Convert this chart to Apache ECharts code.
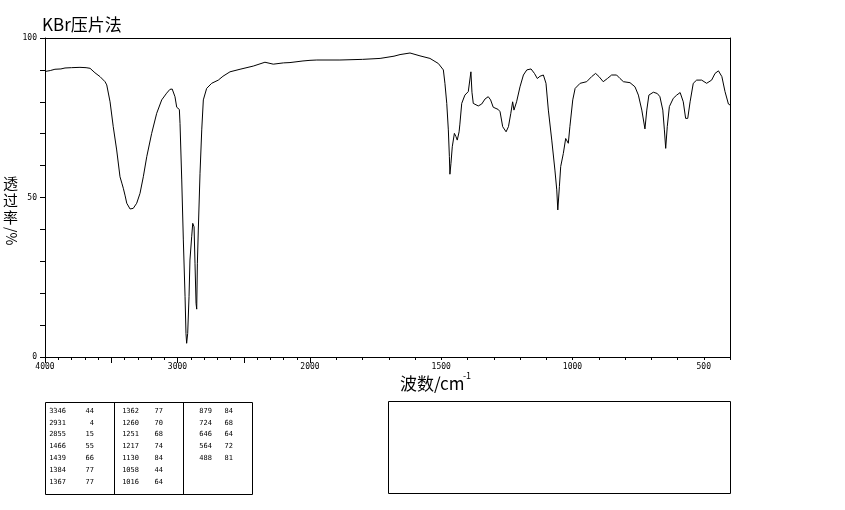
<!DOCTYPE html>
<html>
<head>
<meta charset="utf-8">
<script src="https://cdn.jsdelivr.net/npm/echarts@6/dist/echarts.min.js"></script>
<style>
html,body{margin:0;padding:0;background:#fff;}
#chart{width:845px;height:510px;}
</style>
</head>
<body>
<div id="chart"></div>
<script>
// ---- Spectrum data (wavenumber cm-1, transmittance %) ----
const wavenumbers = [
4000,3960,3925,3880,3849,3800,3736,3690,3660,3623,3585,3547,3534,3509,3485,3459,3434,3420,3409,3395,
3383,3358,3346,3334,3320,3308,3283,3258,3232,3195,3157,3119,3082,3057,3040,3032,3019,3006,2986,2981,
2968,2956,2943,2936,2931,2923,2913,2906,2893,2885,2875,2868,2860,2855,2850,2843,2830,2817,2805,2780,
2742,2692,2657,2604,2528,2428,2340,2277,2200,2151,2053,2000,1974,1886,1800,1733,1680,1657,1619,1581,
1543,1511,1492,1486,1479,1473,1469,1467,1463,1458,1450,1444,1439,1432,1429,1422,1410,1397,1390,1387,
1383,1378,1359,1346,1333,1321,1312,1302,1283,1276,1266,1253,1244,1235,1228,1223,1216,1213,1200,1187,
1174,1158,1145,1134,1124,1111,1101,1092,1079,1067,1060,1056,1050,1045,1035,1026,1020,1016,1010,999,
990,971,946,927,912,899,883,867,851,832,819,806,781,762,749,736,724,717,709,692,
677,667,656,650,645,639,631,616,603,590,578,569,561,552,540,527,508,489,470,457,
444,431,419,406,400
];
const transmittance = [
89.5,89.8,90.2,90.3,90.6,90.7,90.8,90.7,90.5,89.1,87.9,86.3,85.3,80.0,72.2,64.9,56.5,54.5,52.9,50.5,
48.2,46.4,46.3,46.6,47.2,48.2,51.3,56.5,62.8,70.1,76.4,80.6,82.7,83.9,84.0,83.9,81.6,78.3,77.6,73.2,
55.5,36.7,18.9,7.4,4.3,7.4,18.9,30.4,37.7,41.9,40.8,29.4,16.8,15.0,29.4,39.8,57.6,71.2,80.6,84.2,
85.8,86.8,88.0,89.4,90.2,91.2,92.4,91.8,92.2,92.3,92.8,93.0,93.1,93.1,93.3,93.6,94.3,94.8,95.3,94.4,
93.6,92.0,90.0,85.8,79.5,71.2,62.8,57.3,60.7,65.9,70.1,69.1,68.0,70.6,73.0,79.5,82.1,83.2,83.6,89.4,
83.0,79.5,78.7,79.3,80.9,81.6,80.6,78.3,77.6,76.9,72.2,70.6,72.2,76.4,80.0,77.4,76.9,80.0,84.7,88.4,
90.0,90.3,88.9,87.3,88.0,88.4,85.8,77.4,68.0,58.6,52.4,46.1,53.4,59.7,63.8,68.5,69.1,67.0,72.2,80.6,
84.2,85.8,86.3,87.9,88.9,87.9,86.3,87.3,88.4,88.4,87.3,86.3,86.0,84.7,82.1,77.4,71.5,77.4,82.1,83.0,
82.6,81.6,77.4,71.2,65.4,72.2,78.5,81.1,82.1,82.9,80.0,74.8,74.8,80.0,85.8,86.8,86.8,85.8,86.8,88.9,
89.7,87.9,83.2,79.3,79.0
];

// ---- Peak table ----
const peakWavenumbers = [3346,2931,2855,1466,1439,1384,1367, 1362,1260,1251,1217,1130,1058,1016, 879,724,646,564,488];
const peakTransmittance = [44,4,15,55,66,77,77, 77,70,68,74,84,44,64, 84,68,64,72,81];

// ---- Axis ticks ----
const leftTickLabels = [4000,3000,2000];
const rightTickLabels = [1500,1000,500];

const titleText = 'KBr压片法';
const xName = '波数/cm';
const xNameSup = '-1';
const yNameChars = '透\n过\n率';
const yNameTail = '/%';

const highPart = [], lowPart = [];
wavenumbers.forEach((w, i) => {
  if (w >= 2000) highPart.push([w, transmittance[i]]);
  if (w <= 2000) lowPart.push([w, transmittance[i]]);
});

const cjk = '"Noto Sans CJK SC", sans-serif';

// table graphics
const tableEls = [];
const colWnRight = [66, 139, 212];
const colTRight = [94, 163, 233];
peakWavenumbers.forEach((w, i) => {
  const col = Math.floor(i / 7), row = i % 7;
  const y = 411 + row * 11.8;
  tableEls.push({type:'text', x: colWnRight[col], y: y, silent:true,
    style:{text:String(w), fill:'#000', font:'7px "DejaVu Sans Mono", monospace', textAlign:'right', textVerticalAlign:'middle'}});
  tableEls.push({type:'text', x: colTRight[col], y: y, silent:true,
    style:{text:String(peakTransmittance[i]), fill:'#000', font:'7px "DejaVu Sans Mono", monospace', textAlign:'right', textVerticalAlign:'middle'}});
});

const chart = echarts.init(document.getElementById('chart'), null, {renderer:'canvas'});
const axisLineStyle = {color:'#000', width:1};
chart.setOption({
  animation:false,
  backgroundColor:'#fff',
  title:{text:titleText, left:42, top:16, padding:0,
    textStyle:{fontSize:17, fontWeight:'normal', fontFamily:cjk, color:'#000'}},
  grid:[
    {left:45, top:38, width:265, height:319},
    {left:310, top:38, width:420, height:319}
  ],
  xAxis:[
    {gridIndex:0, type:'value', min:2000, max:4000, inverse:true, interval:500,
     axisLine:{show:true, lineStyle:axisLineStyle},
     axisTick:{show:true, length:6, lineStyle:axisLineStyle},
     minorTick:{show:true, splitNumber:5, length:3, lineStyle:axisLineStyle},
     splitLine:{show:false}, minorSplitLine:{show:false},
     axisLabel:{show:true, margin:6, color:'#000', fontSize:8, fontFamily:'"DejaVu Sans Mono", monospace',
       showMinLabel:true, showMaxLabel:true,
       formatter:v => leftTickLabels.includes(v) ? String(v) : ''}},
    {gridIndex:1, type:'value', min:400, max:2000, inverse:true, interval:100,
     axisLine:{show:true, lineStyle:axisLineStyle},
     axisTick:{show:true, length:3, lineStyle:axisLineStyle},
     splitLine:{show:false},
     axisLabel:{show:true, margin:6, color:'#000', fontSize:8, fontFamily:'"DejaVu Sans Mono", monospace',
       formatter:v => rightTickLabels.includes(v) ? String(v) : ''}},
    {gridIndex:0, type:'value', position:'top', min:2000, max:4000, inverse:true,
     axisLine:{show:true, lineStyle:axisLineStyle}, axisTick:{show:false}, axisLabel:{show:false}, splitLine:{show:false}},
    {gridIndex:1, type:'value', position:'top', min:400, max:2000, inverse:true,
     axisLine:{show:true, lineStyle:axisLineStyle}, axisTick:{show:false}, axisLabel:{show:false}, splitLine:{show:false}}
  ],
  yAxis:[
    {gridIndex:0, type:'value', min:0, max:100, interval:10,
     axisLine:{show:true, lineStyle:axisLineStyle},
     axisTick:{show:true, length:5, lineStyle:axisLineStyle},
     splitLine:{show:false},
     axisLabel:{show:true, margin:8, color:'#000', fontSize:8, fontFamily:'"DejaVu Sans Mono", monospace',
       formatter:v => (v % 50 === 0) ? String(v) : ''}},
    {gridIndex:1, type:'value', position:'right', min:0, max:100,
     axisLine:{show:true, lineStyle:axisLineStyle}, axisTick:{show:false}, axisLabel:{show:false}, splitLine:{show:false}}
  ],
  series:[
    {type:'line', xAxisIndex:0, yAxisIndex:0, data:highPart, showSymbol:false, symbol:'none',
     lineStyle:{color:'#000', width:1}, silent:true},
    {type:'line', xAxisIndex:1, yAxisIndex:1, data:lowPart, showSymbol:false, symbol:'none',
     lineStyle:{color:'#000', width:1}, silent:true}
  ],
  graphic:[
    {type:'text', x:400, y:375, silent:true,
     style:{text:xName, fill:'#000', font:'17px ' + cjk, textAlign:'left', textVerticalAlign:'top'}},
    {type:'text', x:463, y:371, silent:true,
     style:{text:xNameSup, fill:'#000', font:'9px ' + cjk, textAlign:'left', textVerticalAlign:'top'}},
    {type:'text', x:3, y:175, silent:true,
     style:{text:yNameChars, fill:'#000', font:'15px ' + cjk, lineHeight:17, textAlign:'left', textVerticalAlign:'top'}},
    {type:'text', x:18, y:227, rotation:-Math.PI/2, silent:true,
     style:{text:yNameTail, fill:'#000', font:'14px ' + cjk, textAlign:'left', textVerticalAlign:'top'}},
    {type:'rect', silent:true, shape:{x:45.5, y:402.5, width:207, height:92},
     style:{fill:'none', stroke:'#000', lineWidth:1}},
    {type:'line', silent:true, shape:{x1:114.5, y1:402.5, x2:114.5, y2:494.5}, style:{stroke:'#000', lineWidth:1}},
    {type:'line', silent:true, shape:{x1:183.5, y1:402.5, x2:183.5, y2:494.5}, style:{stroke:'#000', lineWidth:1}},
    {type:'rect', silent:true, shape:{x:388.5, y:401.5, width:342, height:92},
     style:{fill:'none', stroke:'#000', lineWidth:1}}
  ].concat(tableEls)
});
</script>
</body>
</html>
